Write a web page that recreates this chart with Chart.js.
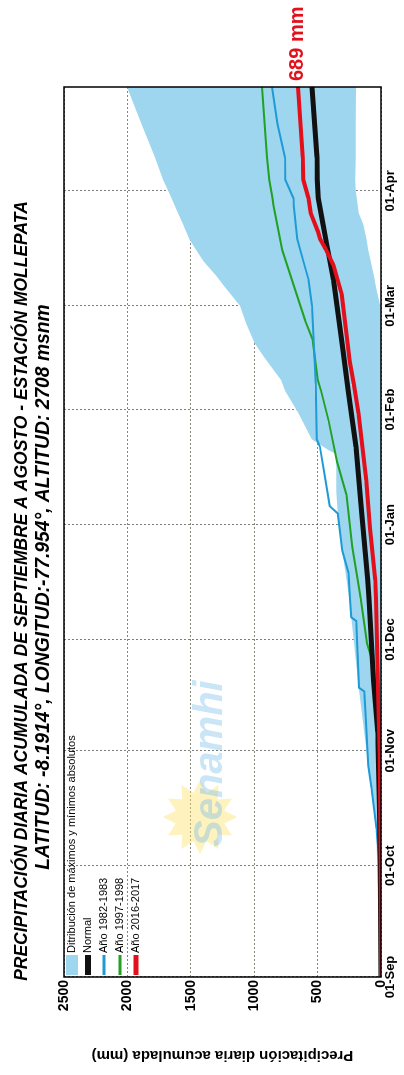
<!DOCTYPE html>
<html>
<head>
<meta charset="utf-8">
<script src="https://cdn.jsdelivr.net/npm/chart.js@4.4.1/dist/chart.umd.min.js"></script>
<style>
html,body{margin:0;padding:0;background:#fff;overflow:hidden;}
/* chart is drawn landscape, then turned a quarter turn like the scanned page */
#wrap{position:absolute;left:0;top:0;width:1075px;height:404px;transform-origin:0 0;transform:translate(0,1075px) rotate(-90deg);}
</style>
</head>
<body>
<div id="wrap"><canvas id="chartMollepata" width="1075" height="404"></canvas></div>
<script>
// dias contados desde el 01-Sep
var monthTicks = [0, 30, 61, 91, 122, 153, 181, 212];
var monthLabels = ['01-Sep', '01-Oct', '01-Nov', '01-Dec', '01-Jan', '01-Feb', '01-Mar', '01-Apr'];
var valueTicks = [0, 500, 1000, 1500, 2000, 2500];

var titleLines = [
    'PRECIPITACIÓN DIARIA ACUMULADA DE SEPTIEMBRE A AGOSTO - ESTACIÓN MOLLEPATA',
    'LATITUD: -8.1914°, LONGITUD:-77.954°, ALTITUD: 2708 msnm'
];
var yTitle = 'Precipitación diaria acumulada (mm)';
var endLabel = '689 mm';

var bandDays = [0, 40, 57, 78, 97, 102, 115, 125, 131, 141, 142, 145, 152, 158, 161, 167, 171, 176, 181, 186, 189, 193, 196, 199, 203, 206, 212, 215, 221, 230, 240];
var bandMax  = [0, 40, 101, 175, 234, 250, 305, 341, 352, 352, 410, 546, 651, 756, 789, 918, 998, 1060, 1112, 1230, 1297, 1400, 1457, 1513, 1561, 1600, 1677, 1720, 1782, 1889, 2003];
var bandMin  = [0, 0, 0, 0, 0, 0, 0, 0, 0, 0, 0, 0, 0, 0, 0, 0, 0, 0, 5, 40, 55, 80, 100, 115, 140, 176, 200, 203, 200, 200, 197];

var normalDays = [0, 30, 45, 66, 80, 102, 107, 125, 143, 158, 170, 188, 197, 203, 210, 215, 221, 240];
var normalVals = [0, 5, 12, 26, 60, 95, 105, 151, 198, 259, 304, 374, 425, 457, 494, 502, 505, 544];

var y8283Days = [0, 20, 30, 40, 51, 57, 70, 77, 78, 96, 97, 102, 109, 115, 125, 127, 136, 143, 145, 160, 181, 188, 193, 199, 208, 210, 215, 221, 230, 240];
var y8283Vals = [0, 3, 10, 35, 75, 101, 120, 132, 173, 196, 234, 245, 256, 305, 341, 405, 448, 482, 506, 515, 544, 571, 612, 660, 689, 690, 755, 757, 816, 860];

var y9798Days = [0, 30, 60, 75, 84, 90, 102, 107, 116, 130, 139, 150, 158, 161, 172, 177, 184, 196, 208, 210, 215, 221, 240];
var y9798Vals = [0, 5, 20, 40, 57, 110, 159, 184, 227, 272, 347, 413, 472, 498, 541, 598, 664, 779, 847, 856, 881, 899, 938];

var y1617Days = [0, 30, 60, 75, 102, 107, 121, 134, 152, 160, 166, 184, 192, 196, 199, 201, 206, 210, 215, 221, 240];
var y1617Vals = [0, 2, 10, 21, 40, 45, 87, 117, 178, 215, 247, 309, 376, 432, 480, 497, 554, 572, 613, 618, 655];

function pts(days, vals) {
    return days.map(function (d, i) { return {x: d, y: vals[i]}; });
}

function fitFont(ctx, text, width, style, family) {
    ctx.font = style + ' 20px ' + family;
    var size = 20 * width / ctx.measureText(text).width;
    return style + ' ' + size.toFixed(1) + 'px ' + family;
}

var decor = {
    id: 'decor',
    beforeDatasetsDraw: function (chart) {
        var ctx = chart.ctx, a = chart.chartArea;
        ctx.save();
        // logo de agua
        var cx = a.left + 160, cy = a.top + 136;
        ctx.fillStyle = 'rgba(253, 228, 110, 0.45)';
        ctx.beginPath();
        for (var i = 0; i < 24; i++) {
            var r = i % 2 ? 25 : 37;
            var t = i * Math.PI / 12;
            ctx.lineTo(cx + r * Math.cos(t), cy + r * Math.sin(t));
        }
        ctx.closePath();
        ctx.fill();
        ctx.font = 'bold italic 40px "Liberation Sans", Arial, sans-serif';
        ctx.fillStyle = 'rgba(120, 190, 232, 0.4)';
        ctx.textBaseline = 'alphabetic';
        ctx.fillText('Senamhi', a.left + 130, a.top + 158);
        ctx.restore();
    },
    afterDraw: function (chart) {
        var ctx = chart.ctx, a = chart.chartArea;
        var ds = chart.data.datasets;
        ctx.save();
        // marco
        ctx.strokeStyle = '#000';
        ctx.lineWidth = 1.5;
        ctx.strokeRect(a.left, a.top, a.right - a.left, a.bottom - a.top);

        // titulos
        var fam = '"Liberation Sans Narrow", "Arial Narrow", "Liberation Sans", Arial, sans-serif';
        ctx.fillStyle = '#000';
        ctx.textAlign = 'center';
        ctx.textBaseline = 'middle';
        ctx.font = fitFont(ctx, titleLines[0], 780, 'italic bold', fam);
        ctx.fillText(titleLines[0], 484, 22);
        ctx.font = fitFont(ctx, titleLines[1], 565, 'italic bold', fam);
        ctx.fillText(titleLines[1], 488, 44);

        // leyenda
        var order = [4, 1, 2, 3, 0];
        ctx.textAlign = 'left';
        ctx.font = '11px "Liberation Sans", Arial, sans-serif';
        order.forEach(function (k, row) {
            var d = ds[k];
            var y = a.top + 8 + row * 16;
            var x0 = a.left + 2;
            if (k === 4) {
                ctx.fillStyle = d.backgroundColor;
                ctx.fillRect(x0, y - 6, 20, 12);
            } else {
                ctx.strokeStyle = d.borderColor;
                ctx.lineWidth = Math.max(d.borderWidth + 1, 3);
                ctx.beginPath();
                ctx.moveTo(x0, y);
                ctx.lineTo(x0 + 20, y);
                ctx.stroke();
            }
            ctx.fillStyle = '#000';
            ctx.fillText(d.label, x0 + 22, y);
        });

        // valor final 2016-2017
        var meta = chart.getDatasetMeta(0);
        var last = meta.data[meta.data.length - 1];
        ctx.fillStyle = '#e3101c';
        ctx.font = 'bold 20px "Liberation Sans", Arial, sans-serif';
        ctx.textBaseline = 'middle';
        ctx.fillText(endLabel, a.right + 6, last.y);
        ctx.restore();
    }
};

var ctx = document.getElementById('chartMollepata');
var chartMollepata = new Chart(ctx, {
    type: 'line',
    data: {
        datasets: [
            {label: 'Año 2016-2017', data: pts(y1617Days, y1617Vals), borderColor: '#e3101c', borderWidth: 4, pointRadius: 0, fill: false},
            {label: 'Normal', data: pts(normalDays, normalVals), borderColor: '#111111', borderWidth: 5, pointRadius: 0, fill: false},
            {label: 'Año 1982-1983', data: pts(y8283Days, y8283Vals), borderColor: '#1e9bd7', borderWidth: 2, pointRadius: 0, fill: false},
            {label: 'Año 1997-1998', data: pts(y9798Days, y9798Vals), borderColor: '#22a022', borderWidth: 2, pointRadius: 0, fill: false},
            {label: 'Ditribución de máximos y mínimos absolutos', data: pts(bandDays, bandMax), borderWidth: 0, borderColor: 'rgba(0,0,0,0)', backgroundColor: '#9fd6ef', pointRadius: 0, fill: '+1'},
            {label: 'min', data: pts(bandDays, bandMin), borderWidth: 0, borderColor: 'rgba(0,0,0,0)', pointRadius: 0, fill: false}
        ]
    },
    options: {
        responsive: false,
        animation: false,
        devicePixelRatio: 1,
        layout: {padding: {top: 64, right: 87, left: 0, bottom: 0}},
        plugins: {
            legend: {display: false},
            title: {display: false},
            tooltip: {enabled: false}
        },
        scales: {
            x: {
                type: 'linear',
                min: 0,
                max: 240,
                afterBuildTicks: function (scale) {
                    scale.ticks = monthTicks.map(function (v) { return {value: v}; });
                },
                afterFit: function (scale) { scale.height = 23; },
                ticks: {
                    autoSkip: false,
                    maxRotation: 0,
                    padding: 2,
                    color: '#000',
                    font: {family: '"Liberation Sans", Arial, sans-serif', size: 13, weight: 'bold'},
                    callback: function (v) { return monthLabels[monthTicks.indexOf(v)]; }
                },
                grid: {color: 'rgba(80,80,80,0.75)', drawTicks: false},
                border: {display: false, dash: [2, 2]}
            },
            y: {
                min: 0,
                max: 2500,
                afterBuildTicks: function (scale) {
                    scale.ticks = valueTicks.map(function (v) { return {value: v}; });
                },
                afterFit: function (scale) { scale.width = 98; },
                ticks: {
                    padding: 3,
                    color: '#000',
                    font: {family: '"Liberation Sans", Arial, sans-serif', size: 14, weight: 'bold'},
                    callback: function (v) { return String(v); }
                },
                grid: {color: 'rgba(90,80,70,0.7)', drawTicks: false},
                border: {display: false, dash: [2, 2]},
                title: {
                    display: true,
                    text: yTitle,
                    color: '#000',
                    padding: {top: 11, bottom: 0},
                    font: {family: '"Liberation Sans", Arial, sans-serif', size: 15, weight: 'bold'}
                }
            }
        }
    },
    plugins: [decor]
});
</script>
</body>
</html>
